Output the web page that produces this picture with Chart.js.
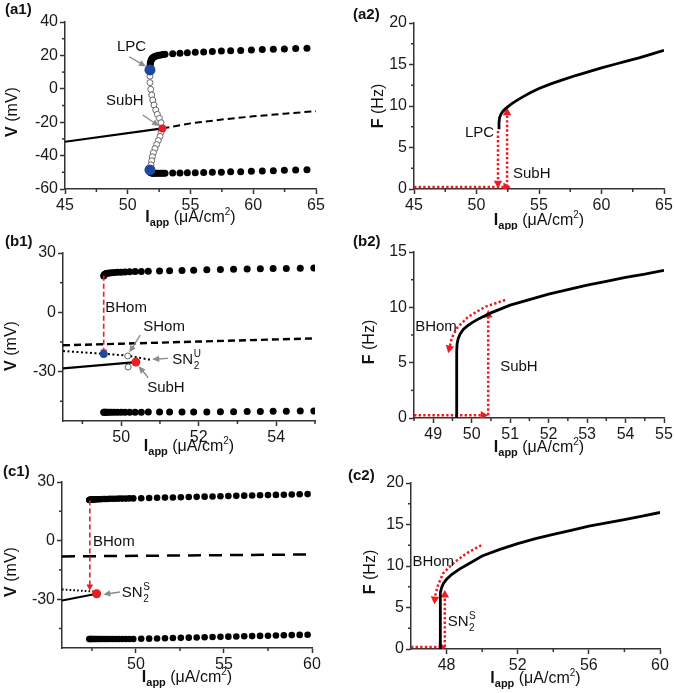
<!DOCTYPE html>
<html>
<head>
<meta charset="utf-8">
<script src="https://cdn.jsdelivr.net/npm/chart.js@4.4.1/dist/chart.umd.min.js"></script>
<style>
  body { margin: 0; background: #fff; }
  #fig { position: relative; width: 675px; height: 693px; }
  canvas { position: absolute; }
</style>
</head>
<body>
<div id="fig">
  <canvas id="a1" width="337" height="230" style="left:0;top:0"></canvas>
  <canvas id="a2" width="338" height="230" style="left:337px;top:0"></canvas>
  <canvas id="b1" width="337" height="230" style="left:0;top:230px"></canvas>
  <canvas id="b2" width="338" height="230" style="left:337px;top:230px"></canvas>
  <canvas id="c1" width="337" height="233" style="left:0;top:460px"></canvas>
  <canvas id="c2" width="338" height="233" style="left:337px;top:460px"></canvas>
</div>
<script>
// ---- (a1) bifurcation diagram, V vs Iapp ----
const a1RestX = [45, 52.76];
const a1RestV = [-31.7, -23.7];
const a1UnstX = [52.76, 55, 57.5, 60, 62.5, 65];
const a1UnstV = [-23.7, -20.7, -18.4, -16.5, -14.9, -13.4];
const a1CycX = [51.77, 51.78, 51.8, 51.83, 51.87, 51.92, 51.99, 52.08, 52.19, 52.32, 52.47, 52.64, 52.8,
  52.97, 53.58, 54.16, 54.75, 55.38, 56.05, 56.74, 57.46, 58.2, 59.0, 59.85, 60.72, 61.6, 62.48, 63.38, 64.28];
const a1CycMax = [12.5, 14.0, 15.3, 16.4, 17.3, 18.0, 18.6, 19.1, 19.5, 19.8, 20.1, 20.3, 20.5,
  20.7, 21.0, 21.3, 21.6, 21.9, 22.1, 22.4, 22.6, 22.8, 23.0, 23.3, 23.5, 23.7, 23.9, 24.1, 24.3];
const a1CycMin = [-48.9, -49.4, -49.8, -50.1, -50.3, -50.4, -50.5, -50.5, -50.5, -50.5, -50.5, -50.5, -50.5,
  -50.5, -50.4, -50.4, -50.3, -50.2, -50.1, -50.0, -49.9, -49.7, -49.6, -49.4, -49.2, -49.0, -48.8, -48.6, -48.4];
const a1UcycX = [51.77, 51.77, 51.83, 51.91, 51.99, 52.09, 52.23, 52.36, 52.52, 52.65,
  52.65, 52.57, 52.43, 52.3, 52.17, 52.04, 51.96, 51.91, 51.85];
const a1UcycV = [7.5, 3.7, -0.3, -3.7, -6.7, -9.7, -12.7, -15.3, -17.7, -20.3,
  -26.0, -28.5, -31.0, -33.4, -35.8, -38.3, -40.7, -43.1, -45.6];
const a1LpcX = [51.77, 51.77];
const a1LpcV = [11.3, -48.6];
const a1SubHX = [52.76];
const a1SubHV = [-23.7];

// ---- (a2) F vs Iapp ----
const a2X = [51.8, 51.8, 51.85, 51.95, 52.1, 52.3, 52.5, 52.8, 53.2, 53.7, 54.3, 55, 56, 57, 58, 59, 60, 61, 62, 63, 64, 65];
const a2F = [7.2, 8.0, 8.6, 9.0, 9.35, 9.65, 9.9, 10.25, 10.65, 11.1, 11.6, 12.1, 12.7, 13.2, 13.7, 14.15, 14.6, 15.0, 15.4, 15.8, 16.25, 16.7];
const a2HorX = [45, 52.35], a2HorF = [0.25, 0.25];
const a2DownX = [51.72, 51.72], a2DownF = [7.0, 0.7];
const a2UpX = [52.45, 52.45], a2UpF = [0.25, 9.2];

// ---- (b1) ----
const b1RestX = [48.5, 50.38];
const b1RestV = [-28.4, -25.2];
const b1DashX = [48.5, 50, 52, 55];
const b1DashV = [-16.7, -15.9, -14.8, -13.2];
const b1DotX = [48.5, 49.55, 50.17, 50.55, 50.75];
const b1DotV = [-19.6, -21.0, -21.9, -23.3, -24.0];
const b1CycX = [49.55, 49.56, 49.58, 49.61, 49.65, 49.7, 49.76, 49.83, 49.91, 50.0, 50.1, 50.22, 50.36, 50.52,
  50.7, 50.99, 51.25, 51.57, 51.87, 52.21, 52.56, 52.9, 53.25, 53.59, 53.92, 54.26, 54.62, 54.97];
const b1CycMax = [18.3, 18.9, 19.3, 19.6, 19.8, 19.9, 20.0, 20.1, 20.2, 20.3, 20.4, 20.5, 20.6, 20.7,
  20.8, 20.9, 21.0, 21.2, 21.3, 21.5, 21.6, 21.8, 21.9, 22.0, 22.1, 22.2, 22.3, 22.4];
const b1CycMin = [-50.6, -50.6, -50.6, -50.6, -50.6, -50.6, -50.6, -50.6, -50.6, -50.6, -50.6, -50.6, -50.6, -50.6,
  -50.5, -50.5, -50.5, -50.5, -50.4, -50.4, -50.3, -50.3, -50.2, -50.2, -50.1, -50.1, -50.0, -50.0];
const b1OpenX = [50.17, 50.18], b1OpenV = [-22.1, -27.7];
const b1BlueX = [49.55], b1BlueV = [-21.1];
const b1RedX = [50.38], b1RedV = [-25.2];
const b1JumpX = [49.55, 49.55], b1JumpV = [18.5, -19.8];

// ---- (b2) ----
const b2X = [49.61, 49.61, 49.62, 49.65, 49.7, 49.78, 49.88, 50.0, 50.2, 50.5, 51.0, 51.5, 52.0, 52.5, 53.0, 53.5, 54.0, 54.5, 55.0];
const b2F = [0, 6.0, 6.7, 7.2, 7.6, 8.0, 8.3, 8.6, 9.0, 9.5, 10.2, 10.7, 11.2, 11.6, 12.0, 12.35, 12.7, 13.0, 13.35];
const b2HorX = [48.5, 50.3], b2HorF = [0.25, 0.25];
const b2UpX = [50.43, 50.43], b2UpF = [0.25, 9.3];
const b2BackX = [50.87, 50.35, 49.91, 49.61, 49.48, 49.42];
const b2BackF = [10.66, 10.05, 9.15, 8.1, 7.2, 6.3];

// ---- (c1) ----
const c1RestX = [45.8, 47.77], c1RestV = [-30.7, -27.2];
const c1DashX = [45.8, 60], c1DashV = [-8.1, -7.1];
const c1DotX = [45.8, 47.77], c1DotV = [-25.0, -26.2];
const c1CycX = [47.35, 47.38, 47.42, 47.47, 47.53, 47.6, 47.68, 47.77, 47.87, 47.98, 48.1, 48.23, 48.37, 48.52, 48.68,
  48.85, 49.03, 49.22, 49.42, 49.63, 49.85, 50.3, 50.75, 51.2, 51.65, 52.1, 52.55, 53.0, 53.45, 53.9, 54.35, 54.8,
  55.25, 55.7, 56.15, 56.6, 57.05, 57.5, 57.95, 58.4, 58.85, 59.3, 59.75];
const c1CycMax = [20.8, 20.9, 21.0, 21.0, 21.1, 21.1, 21.1, 21.2, 21.2, 21.2, 21.3, 21.3, 21.3, 21.4, 21.4,
  21.4, 21.5, 21.5, 21.5, 21.6, 21.6, 21.7, 21.8, 21.9, 22.0, 22.1, 22.2, 22.3, 22.4, 22.5, 22.6, 22.7,
  22.8, 22.9, 23.0, 23.1, 23.2, 23.3, 23.4, 23.5, 23.6, 23.7, 23.8];
const c1CycMin = [-50.4, -50.4, -50.4, -50.4, -50.4, -50.4, -50.4, -50.4, -50.4, -50.4, -50.4, -50.4, -50.4, -50.4, -50.4,
  -50.4, -50.4, -50.4, -50.4, -50.4, -50.4, -50.3, -50.2, -50.1, -50.0, -49.9, -49.8, -49.7, -49.6, -49.5, -49.4, -49.3,
  -49.2, -49.1, -49.0, -48.9, -48.8, -48.7, -48.6, -48.5, -48.4, -48.3, -48.2];
const c1RedX = [47.77], c1RedV = [-27.2];
const c1JumpX = [47.38, 47.38], c1JumpV = [20.5, -23.5];

// ---- (c2) ----
const c2X = [47.64, 47.64, 47.66, 47.72, 47.82, 48.0, 48.3, 48.7, 49.2, 50, 51, 52, 53, 54, 55, 56, 57, 58, 59, 60];
const c2F = [0, 6.0, 6.8, 7.4, 7.9, 8.4, 9.0, 9.6, 10.2, 11.2, 12.0, 12.7, 13.3, 13.8, 14.3, 14.8, 15.2, 15.6, 16.0, 16.45];
const c2HorX = [46, 47.7], c2HorF = [0.25, 0.25];
const c2UpX = [47.9, 47.9], c2UpF = [0.25, 6.5];
const c2BackX = [49.95, 49.1, 48.36, 47.8, 47.52, 47.38, 47.34];
const c2BackF = [12.5, 11.5, 10.3, 9.1, 7.7, 6.6, 6.0];

const FONT = '"Liberation Sans", Arial, Helvetica, sans-serif';
const RED = '#ec1c24';
const BLUE = '#1f4a9c';

function pts(xs, ys) { return xs.map((x, i) => ({ x: x, y: ys[i] })); }

function line(xs, ys, o) {
  return Object.assign({ data: pts(xs, ys), showLine: true, pointRadius: 0, borderColor: '#000',
    borderWidth: 2.2, fill: false, order: 3 }, o);
}
function dots(xs, ys, o) {
  return Object.assign({ data: pts(xs, ys), showLine: false, pointRadius: 3.5, pointBackgroundColor: '#000',
    pointBorderWidth: 0, order: 2 }, o);
}
function arrow(xs, ys, rot, o) {
  const n = xs.length;
  return Object.assign({ data: pts(xs, ys), showLine: true, borderColor: RED, borderWidth: 2.5,
    borderDash: [2.4, 2.2], pointStyle: 'triangle',
    pointRadius: xs.map((_, i) => i === n - 1 ? 5 : 0),
    pointRotation: xs.map((_, i) => i === n - 1 ? rot : 0),
    pointBackgroundColor: RED, pointBorderWidth: 0, order: 1 }, o);
}

// labels, axis titles, minor ticks and pointers, per canvas
const DECOR = {
  a1: { label: ['(a1)', 5, 10], yTitle: ['V', ' (mV)', 13, 112], xTitleY: 218,
    minorX: [47.5, 52.5, 57.5, 62.5], minorY: [-50, -30, -10, 10, 30],
    notes: [{ t: 'LPC', x: 49.14, y: 25 }, { t: 'SubH', x: 48.27, y: -7.3 }],
    pointers: [[50.12, 19.2, 51.45, 13.4], [51.19, -15.7, 52.5, -22.3]] },
  a2: { label: ['(a2)', 16, 15], yTitle: ['F', ' (Hz)', 42, 106], xTitleY: 221,
    minorX: [47.5, 52.5, 57.5, 62.5], minorY: [2.5, 7.5, 12.5, 17.5],
    notes: [{ t: 'LPC', x: 49.08, y: 6.75 }, { t: 'SubH', x: 52.92, y: 1.8 }], pointers: [] },
  b1: { label: ['(b1)', 5, 12], yTitle: ['V', ' (mV)', 12, 116], xTitleY: 217,
    minorX: [49, 51, 53, 55], minorY: [-45, -15, 15],
    notes: [{ t: 'BHom', x: 49.59, y: 2.1 }, { t: 'SHom', x: 50.57, y: -7.6 },
      { t: 'SN', x: 51.32, y: -24.3, sub: '2', sup: 'U' }, { t: 'SubH', x: 50.67, y: -38 }],
    pointers: [[50.49, -11.6, 50.21, -20.4], [51.21, -23.3, 50.8, -23.8], [50.7, -33.1, 50.45, -27.3]] },
  b2: { label: ['(b2)', 16, 12], yTitle: ['F', ' (Hz)', 33, 112], xTitleY: 218,
    minorX: [48.5, 49.5, 50.5, 51.5, 52.5, 53.5, 54.5], minorY: [2.5, 7.5, 12.5],
    notes: [{ t: 'BHom', x: 48.53, y: 8.2 }, { t: 'SubH', x: 50.74, y: 4.6 }], pointers: [] },
  c1: { label: ['(c1)', 3, 12], yTitle: ['V', ' (mV)', 12, 112], xTitleY: 218,
    minorX: [47.5, 52.5, 57.5], minorY: [-45, -15, 15],
    notes: [{ t: 'BHom', x: 47.56, y: -0.9 }, { t: 'SN', x: 49.2, y: -26.8, sub: '2', sup: 'S' }],
    pointers: [[49.09, -26.3, 48.15, -27.6]] },
  c2: { label: ['(c2)', 11, 16], yTitle: ['F', ' (Hz)', 34, 112], xTitleY: 219,
    minorX: [50, 54, 58], minorY: [2.5, 7.5, 12.5, 17.5],
    notes: [{ t: 'BHom', x: 46.08, y: 10.5 }, { t: 'SN', x: 48.06, y: 3.25, sub: '2', sup: 'S' }], pointers: [] }
};

function drawRich(ctx, parts, cx, cy) {
  let w = 0;
  const ws = parts.map(p => {
    ctx.font = (p.bold ? 'bold ' : '') + p.size + 'px ' + FONT;
    const m = ctx.measureText(p.t).width; w += m; return m;
  });
  let x = cx - w / 2;
  parts.forEach((p, i) => {
    ctx.font = (p.bold ? 'bold ' : '') + p.size + 'px ' + FONT;
    ctx.fillText(p.t, x, cy + (p.dy || 0));
    x += ws[i];
  });
}

const decor = {
  id: 'decor',
  afterDraw(chart) {
    const d = DECOR[chart.canvas.id];
    if (!d) return;
    const ctx = chart.ctx, a = chart.chartArea, sx = chart.scales.x, sy = chart.scales.y;
    ctx.save();
    ctx.strokeStyle = '#333';
    ctx.lineWidth = 1.5;
    d.minorX.forEach(v => {
      const p = sx.getPixelForValue(v);
      ctx.beginPath(); ctx.moveTo(p, a.bottom); ctx.lineTo(p, a.bottom + 3); ctx.stroke();
    });
    d.minorY.forEach(v => {
      const p = sy.getPixelForValue(v);
      ctx.beginPath(); ctx.moveTo(a.left, p); ctx.lineTo(a.left - 3, p); ctx.stroke();
    });

    ctx.fillStyle = '#111';
    ctx.textBaseline = 'middle';
    ctx.textAlign = 'left';
    ctx.font = 'bold 15px ' + FONT;
    ctx.fillText(d.label[0], d.label[1], d.label[2]);

    // x title
    drawRich(ctx, [{ t: 'I', size: 16, bold: true }, { t: 'app', size: 11, bold: true, dy: 5 },
      { t: ' (\u03bcA/cm', size: 16 }, { t: '2', size: 10, dy: -6 }, { t: ')', size: 16 }],
      (a.left + a.right) / 2, d.xTitleY);

    // y title
    ctx.save();
    ctx.translate(d.yTitle[2], d.yTitle[3]);
    ctx.rotate(-Math.PI / 2);
    drawRich(ctx, [{ t: d.yTitle[0], size: 16, bold: true }, { t: d.yTitle[1], size: 16 }], 0, 0);
    ctx.restore();

    // gray pointers
    ctx.strokeStyle = '#8c8c8c';
    ctx.fillStyle = '#8c8c8c';
    ctx.lineWidth = 1.4;
    d.pointers.forEach(q => {
      const x0 = sx.getPixelForValue(q[0]), y0 = sy.getPixelForValue(q[1]);
      const x1 = sx.getPixelForValue(q[2]), y1 = sy.getPixelForValue(q[3]);
      const ang = Math.atan2(y1 - y0, x1 - x0);
      ctx.beginPath(); ctx.moveTo(x0, y0);
      ctx.lineTo(x1 - 5 * Math.cos(ang), y1 - 5 * Math.sin(ang)); ctx.stroke();
      ctx.beginPath();
      ctx.moveTo(x1, y1);
      ctx.lineTo(x1 - 7 * Math.cos(ang) + 3.2 * Math.sin(ang), y1 - 7 * Math.sin(ang) - 3.2 * Math.cos(ang));
      ctx.lineTo(x1 - 7 * Math.cos(ang) - 3.2 * Math.sin(ang), y1 - 7 * Math.sin(ang) + 3.2 * Math.cos(ang));
      ctx.closePath(); ctx.fill();
    });

    // notes
    ctx.fillStyle = '#111';
    d.notes.forEach(n => {
      const x = sx.getPixelForValue(n.x), y = sy.getPixelForValue(n.y);
      ctx.font = '15px ' + FONT;
      ctx.fillText(n.t, x, y);
      if (n.sub) {
        const w = ctx.measureText(n.t).width;
        ctx.font = '10px ' + FONT;
        ctx.fillText(n.sub, x + w + 0.5, y + 6);
        ctx.fillText(n.sup, x + w + 0.5, y - 6);
      }
    });
    ctx.restore();
  }
};
Chart.register(decor);

function makeChart(id, area, sx, sy, datasets) {
  const cv = document.getElementById(id);
  const W = cv.width, H = cv.height;
  const tickFont = { family: FONT, size: 16 };
  const base = {
    type: 'linear',
    grid: { drawOnChartArea: false, tickLength: 5, tickWidth: 1.5, color: '#333' },
    border: { color: '#333', width: 1.5 },
    ticks: { font: tickFont, color: '#1a1a1a', padding: 2, maxRotation: 0, autoSkip: false }
  };
  new Chart(cv, {
    type: 'scatter',
    data: { datasets: datasets },
    options: {
      responsive: false, animation: false, devicePixelRatio: 1, events: [],
      layout: { padding: { left: 0, bottom: 0, top: area.t, right: W - area.r } },
      plugins: { legend: { display: false }, tooltip: { enabled: false } },
      scales: {
        x: Object.assign({}, base, {
          min: sx.min, max: sx.max,
          afterBuildTicks: s => { s.ticks = sx.ticks.map(v => ({ value: v })); },
          afterFit: s => { s.height = H - area.b; s.paddingLeft = 0; s.paddingRight = 0; }
        }),
        y: Object.assign({}, base, {
          min: sy.min, max: sy.max,
          afterBuildTicks: s => { s.ticks = sy.ticks.map(v => ({ value: v })); },
          afterFit: s => { s.width = area.l; s.paddingTop = 0; s.paddingBottom = 0; }
        })
      }
    }
  });
}

const openStyle = { pointRadius: 3, pointBackgroundColor: '#fff', pointBorderColor: '#666', pointBorderWidth: 1 };

makeChart('a1', { l: 65, r: 316, t: 22, b: 189 },
  { min: 45, max: 65, ticks: [45, 50, 55, 60, 65] },
  { min: -60, max: 40, ticks: [-60, -40, -20, 0, 20, 40] }, [
    dots(a1SubHX, a1SubHV, { pointRadius: 4, pointBackgroundColor: RED, order: 0 }),
    dots(a1LpcX, a1LpcV, { pointRadius: 5.5, pointBackgroundColor: BLUE, order: 0 }),
    dots(a1UcycX, a1UcycV, Object.assign({ order: 1 }, openStyle)),
    dots(a1CycX, a1CycMax),
    dots(a1CycX, a1CycMin),
    line(a1RestX, a1RestV),
    line(a1UnstX, a1UnstV, { borderDash: [7, 4], borderWidth: 2 })
  ]);

makeChart('a2', { l: 77, r: 327, t: 23, b: 189 },
  { min: 45, max: 65, ticks: [45, 50, 55, 60, 65] },
  { min: 0, max: 20, ticks: [0, 5, 10, 15, 20] }, [
    line(a2X, a2F, { borderWidth: 2.8, order: 0 }),
    arrow(a2HorX, a2HorF, 90),
    arrow(a2DownX, a2DownF, 180),
    arrow(a2UpX, a2UpF, 0)
  ]);

makeChart('b1', { l: 63, r: 315, t: 23, b: 191 },
  { min: 48.5, max: 55, ticks: [50, 52, 54] },
  { min: -55, max: 30, ticks: [-30, 0, 30] }, [
    dots(b1RedX, b1RedV, { pointRadius: 4.5, pointBackgroundColor: RED, order: 0 }),
    dots(b1BlueX, b1BlueV, { pointRadius: 4, pointBackgroundColor: BLUE, order: 0 }),
    dots(b1OpenX, b1OpenV, Object.assign({ order: 1 }, openStyle)),
    arrow(b1JumpX, b1JumpV, 180, { borderDash: [5, 3], borderWidth: 1.6, pointRadius: [0, 4] }),
    dots(b1CycX, b1CycMax),
    dots(b1CycX, b1CycMin),
    line(b1RestX, b1RestV),
    line(b1DashX, b1DashV, { borderDash: [7, 4], borderWidth: 2.4 }),
    line(b1DotX, b1DotV, { borderDash: [2, 2.5], borderWidth: 2 })
  ]);

makeChart('b2', { l: 77, r: 327, t: 22, b: 188 },
  { min: 48.5, max: 55, ticks: [49, 50, 51, 52, 53, 54, 55] },
  { min: 0, max: 15, ticks: [0, 5, 10, 15] }, [
    line(b2X, b2F, { borderWidth: 2.8, order: 0 }),
    arrow(b2HorX, b2HorF, 90),
    arrow(b2UpX, b2UpF, 0),
    arrow(b2BackX, b2BackF, 193)
  ]);

makeChart('c1', { l: 62, r: 312, t: 22, b: 188 },
  { min: 45.8, max: 60, ticks: [50, 55, 60] },
  { min: -55, max: 30, ticks: [-30, 0, 30] }, [
    dots(c1RedX, c1RedV, { pointRadius: 4.5, pointBackgroundColor: RED, order: 0 }),
    arrow(c1JumpX, c1JumpV, 180, { borderDash: [5, 3], borderWidth: 1.6, pointRadius: [0, 4] }),
    dots(c1CycX, c1CycMax, { pointRadius: 3.3 }),
    dots(c1CycX, c1CycMin, { pointRadius: 3.3 }),
    line(c1RestX, c1RestV),
    line(c1DashX, c1DashV, { borderDash: [13, 8], borderWidth: 2.5 }),
    line(c1DotX, c1DotV, { borderDash: [1.6, 2.2], borderWidth: 2 })
  ]);

makeChart('c2', { l: 74, r: 323, t: 23, b: 189 },
  { min: 46, max: 60, ticks: [48, 52, 56, 60] },
  { min: 0, max: 20, ticks: [0, 5, 10, 15, 20] }, [
    line(c2X, c2F, { borderWidth: 2.8, order: 0 }),
    arrow(c2HorX, c2HorF, 90),
    arrow(c2UpX, c2UpF, 0),
    arrow(c2BackX, c2BackF, 185)
  ]);
</script>
</body>
</html>
